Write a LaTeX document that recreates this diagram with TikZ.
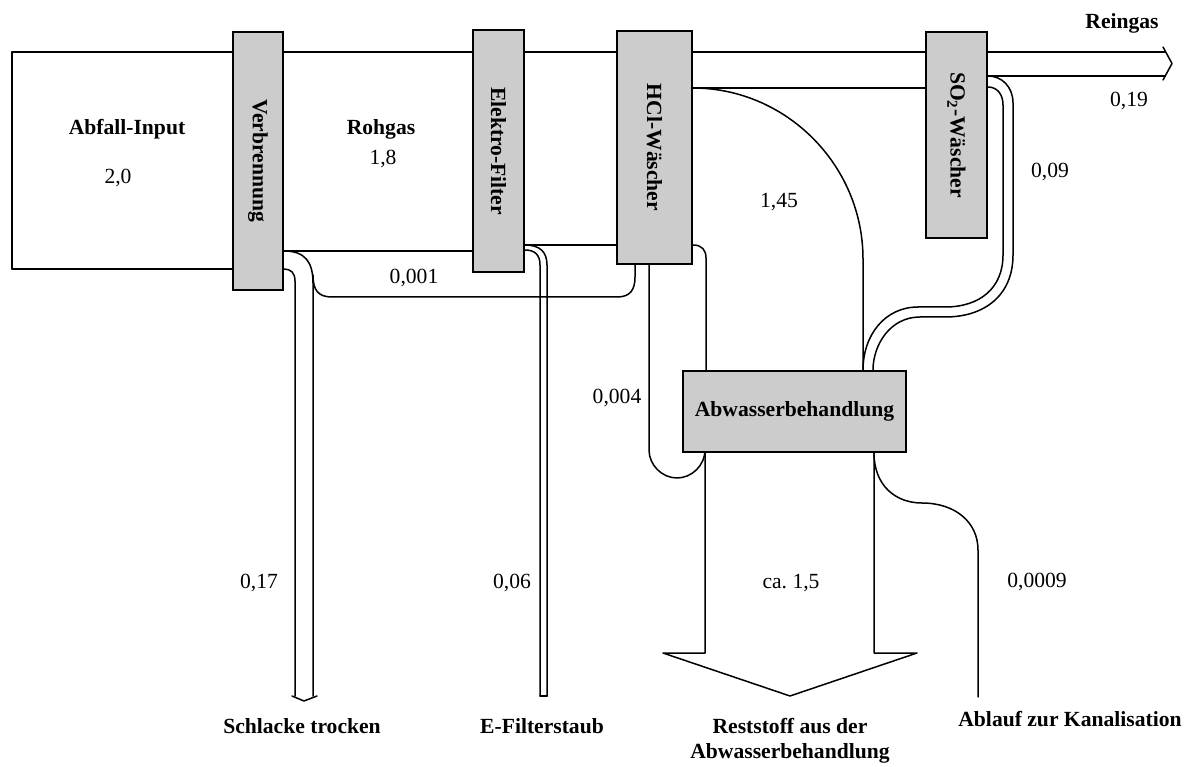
\documentclass[tikz,border=0pt]{standalone}
\usepackage{fontspec}
\setmainfont{Liberation Serif}
\usetikzlibrary{backgrounds}
\newcommand\flowfont{\fontsize{21.6}{25}\selectfont}
\definecolor{unitgray}{RGB}{204,204,204}
\frenchspacing
\begin{document}
\begin{tikzpicture}[x=1pt,y=-1pt,
  flow/.style={line width=1.5pt, line join=round, line cap=round},
  unit/.style={draw, line width=1.8pt, fill=unitgray, inner sep=0pt, font=\flowfont\bfseries},
  vunit/.style={unit, rotate=-90},
  qty/.style={font=\flowfont, anchor=base, inner sep=0pt},
  title/.style={font=\flowfont\bfseries, anchor=base, inner sep=0pt, align=center}]

\useasboundingbox (0,0) rectangle (1194,767);

% process units (vertical units: text runs downwards, so .north is the right side
% and .east the bottom edge)
\node[vunit, minimum width=258pt, minimum height=50pt] (verb) at (258,161) {Verbrennung};
\node[vunit, minimum width=242pt, minimum height=51pt] (elek) at (498.5,151) {Elektro-Filter};
\node[vunit, minimum width=233pt, minimum height=75pt] (hcl) at (654.5,147.5) {HCl-Wäscher};
\node[vunit, minimum width=206pt, minimum height=61pt] (so2) at (956.5,135) {SO\textsubscript{2}-Wäscher};
\node[unit, minimum width=223pt, minimum height=81pt] (abw) at (794.5,411.5) {Abwasserbehandlung};

% outlet ends
\coordinate (slagend) at (304,701);
\coordinate (dustend) at (543.5,696);
\coordinate (residend) at (790,696);
\coordinate (drainend) at (978,697);
\coordinate (stackend) at (1172,63.5);

\begin{pgfonlayer}{background}
  % gas stream: upper edge through all units, input block
  \draw[flow] (12,269) -- (12,52) -- (1165,52);
  \draw[flow] (12,269) -- (verb.south |- 0,269);
  % lower edges of the gas stream between the units
  \draw[flow] (verb.north |- 0,251) -- (elek.south |- 0,251);
  \draw[flow] (elek.north |- 0,245) -- (hcl.south |- 0,245);
  \draw[flow] (hcl.north |- 0,88) -- (so2.south |- 0,88);
  \draw[flow] (so2.north |- 0,76) -- (1165,76);
  % clean gas arrow tip
  \draw[flow] (1163,47) -- (stackend) -- (1163,80);

  % slag
  \draw[flow] (verb.north |- 0,251) .. controls (305,251) and (313,262) .. (313,283) -- (313,696);
  \draw[flow] (verb.north |- 0,269) .. controls (291,269) and (295,273) .. (295,281) -- (295,696);
  \draw[flow] (292,696) -- (slagend) -- (317,696);

  % recirculation 0,001
  \draw[flow] (313,275) .. controls (313,290) and (318,297) .. (332,297) -- (617,297)
        .. controls (630,297) and (635,290) .. (635,277) -- (635,0 |- hcl.east);

  % filter dust
  \draw[flow] (elek.north |- 0,245) .. controls (540,245) and (547,252) .. (547,265) -- (547,696);
  \draw[flow] (elek.north |- 0,250) .. controls (535,250) and (540,255) .. (540,265) -- (540,696);
  \draw[flow] (540,696) -- (dustend) -- (547,696);

  % scrubber water 1,45
  \draw[flow] (hcl.north |- 0,88) .. controls (786,88) and (863,165) .. (863,259) -- (863,0 |- abw.north);
  \draw[flow] (hcl.north |- 0,245) .. controls (702,245) and (706,250) .. (706,258) -- (706,0 |- abw.north);

  % loop 0,004
  \draw[flow] (649,0 |- hcl.east) -- (649,450) .. controls (649,465) and (662,478) .. (677,478)
        .. controls (692,478) and (705,465) .. (705,450);

  % residue arrow ca. 1,5
  \draw[flow] (705,0 |- abw.south) -- (705,653) -- (663,653) -- (residend) -- (917,653) -- (874,653) -- (874,0 |- abw.south);

  % drain 0,0009
  \draw[flow] (874,0 |- abw.south) .. controls (874,485) and (895,503) .. (922,503)
        .. controls (955,503) and (978,522) .. (978,550) -- (drainend);

  % SO2 scrubber water 0,09
  \draw[flow] (so2.north |- 0,76) .. controls (1002,76) and (1013,87) .. (1013,103) -- (1013,255)
        .. controls (1013,295) and (985,317) .. (945,317) -- (920,317)
        .. controls (890,317) and (873,345) .. (873,0 |- abw.north);
  \draw[flow] (so2.north |- 0,87) .. controls (997,87) and (1003,94) .. (1003,105) -- (1003,255)
        .. controls (1003,288) and (980,307) .. (945,307) -- (918,307)
        .. controls (885,307) and (863,335) .. (863,0 |- abw.north);
\end{pgfonlayer}

% stream names
\node[title] (tin) at (127,135) {Abfall-Input};
\node[title] (traw) at (381,135) {Rohgas};
\node[title] (tclean) at (1122,29) {Reingas};
\node[title] (tslag) at (302,733) {Schlacke trocken};
\node[title] (tdust) at (542,733) {E-Filterstaub};
\node[title, anchor=north] (tresid) at (790,718) {Reststoff aus der\\Abwasserbehandlung};
\node[title] (tdrain) at (1070,726) {Ablauf zur Kanalisation};

% quantities
\node[qty] (qin) at (118,184) {2,0};
\node[qty] (qraw) at (383,165) {1,8};
\node[qty] (qrec) at (414,284) {0,001};
\node[qty] (qscr) at (779,208) {1,45};
\node[qty] (qloop) at (617,403) {0,004};
\node[qty] (qclean) at (1129,107) {0,19};
\node[qty] (qso2) at (1050,178) {0,09};
\node[qty] (qslag) at (259,588) {0,17};
\node[qty] (qdust) at (512,588) {0,06};
\node[qty] (qresid) at (791,588) {ca. 1,5};
\node[qty] (qdrain) at (1037,587) {0,0009};
\end{tikzpicture}
\end{document}
